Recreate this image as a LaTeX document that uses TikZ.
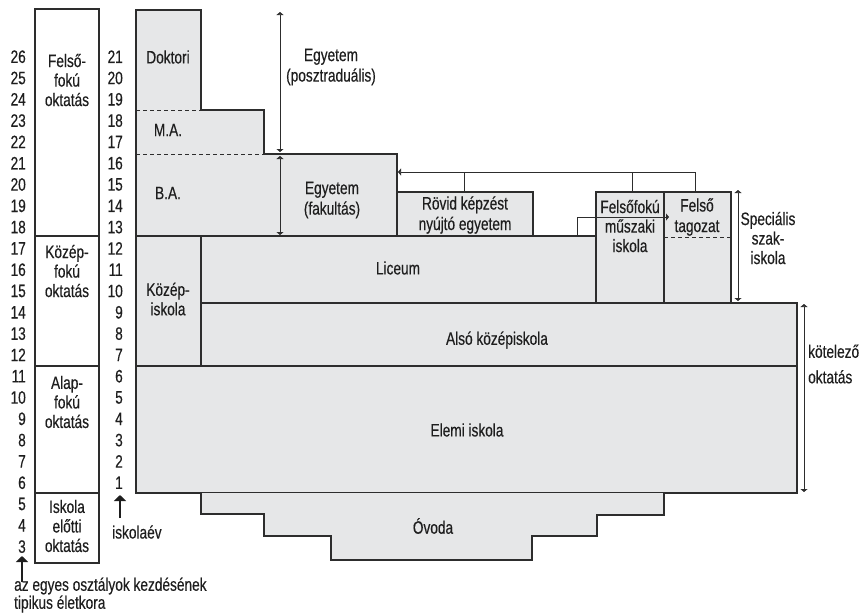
\documentclass[tikz,border=0pt]{standalone}
\usepackage{fontspec}
\setmainfont[FakeStretch=0.76,FakeBold=0.35]{Liberation Sans}
\usetikzlibrary{arrows.meta}
\definecolor{linec}{RGB}{45,45,45}
\definecolor{textc}{RGB}{30,30,30}
\definecolor{fillc}{RGB}{230,231,232}
\begin{document}
\begin{tikzpicture}[x=1pt,y=-1pt,
  every node/.style={font=\fontsize{18}{19.5}\selectfont, inner sep=0pt, align=center, text=textc},
  box/.style={draw=linec, fill=fillc, line width=1.1pt},
  wbox/.style={draw=linec, fill=white, line width=1.1pt},
  dash line/.style={draw=linec, line width=1pt, dash pattern=on 4pt off 3pt},
  conn/.style={draw=linec, line width=1pt},
  dbl/.style={conn, {Triangle[length=3pt,width=7pt]}-{Triangle[length=3pt,width=7pt]}},
  sarrow/.style={conn, -{Triangle[length=3pt,width=7pt]}},
  barrow/.style={draw=textc, line width=2pt, -{Triangle[length=6pt,width=12pt]}}]
\useasboundingbox (0,0) rectangle (861,614);
% left column
\draw[wbox] (35,9) rectangle (99,563);
\draw[conn, line width=1.1pt] (35,236) -- (99,236) (35,366) -- (99,366) (35,493) -- (99,493);
% university
\draw[box] (136,236) -- (136,10) -- (201,10) -- (201,110) -- (264,110) -- (264,154) -- (397,154) -- (397,236) -- cycle;
\draw[dash line] (136,110) -- (201,110);
\draw[dash line] (136,154) -- (264,154);
\draw[box] (397,192) rectangle (533,236);
\draw[box] (596,192) rectangle (664,303);
\draw[box] (664,192) rectangle (731,303);
\draw[dash line] (664,237) -- (731,237);
% secondary
\draw[box] (136,236) rectangle (201,366);
\draw[box] (201,236) rectangle (596,303);
\draw[box] (201,303) rectangle (797,366);
\draw[box] (136,366) rectangle (797,493);
% kindergarten
\draw[box] (201,493) -- (201,514) -- (264,514) -- (264,536) -- (331,536) -- (331,560) -- (532,560) -- (532,536) -- (597,536) -- (597,515) -- (664,515) -- (664,493);
% coordinates for connectors
\coordinate (rov) at (464,192);
\coordinate (fm) at (632,192);
\coordinate (ft) at (695,192);
\coordinate (egyr) at (398,172);
\coordinate (lic) at (577,236);
\coordinate (ftl) at (669,217);
\coordinate (p1) at (280,12);
\coordinate (p2) at (280,152);
\coordinate (f1) at (280,156);
\coordinate (f2) at (280,235);
\coordinate (s1) at (738,190);
\coordinate (s2) at (738,301);
\coordinate (k1) at (804,304);
\coordinate (k2) at (804,492);
\coordinate (a1) at (22,582);
\coordinate (a2) at (22,556);
\coordinate (i1) at (120,518);
\coordinate (i2) at (120,495);
% connectors
\draw[sarrow] (ft) |- (egyr);
\draw[conn] (fm) -- (fm |- egyr);
\draw[conn] (rov) -- (rov |- egyr);
\draw[sarrow] (lic) |- (ftl);
\draw[dbl] (p1) -- (p2);
\draw[dbl] (f1) -- (f2);
\draw[dbl] (s1) -- (s2);
\draw[dbl] (k1) -- (k2);
\draw[barrow] (a1) -- (a2);
\draw[barrow] (i1) -- (i2);
% numbers
\foreach \a in {3,...,26} {
  \pgfmathsetmacro{\yy}{56.7+(26-\a)*21.3}
  \node[anchor=east] (age\a) at (26,\yy) {\a};
}
\foreach \g in {1,...,21} {
  \pgfmathsetmacro{\yy}{56.7+(21-\g)*21.3}
  \node[anchor=east] (gr\g) at (123,\yy) {\g};
}
% left column labels
\node (felso) at (67,80) {Felső-\\fokú\\oktatás};
\node (kozep) at (67,271) {Közép-\\fokú\\oktatás};
\node (alap) at (67,402) {Alap-\\fokú\\oktatás};
\node (iskel) at (67,526) {Iskola\\előtti\\oktatás};
% main labels
\node (dok) at (168,57) {Doktori};
\node (ma) at (168,130) {M.A.};
\node (ba) at (168,193) {B.A.};
\node (poszt) at (331,67) {Egyetem\\[1pt](posztraduális)};
\node (fak) at (332,200) {Egyetem\\[1pt](fakultás)};
\node (rovid) at (465,215) {Rövid képzést\\[1pt]nyújtó egyetem};
\node (musz) at (630,226) {Felsőfokú\\műszaki\\iskola};
\node (ftag) at (697,217) {Felső\\[1pt]tagozat};
\node (spec) at (768,238) {Speciális\\szak-\\iskola};
\node (kisk) at (168,299) {Közép-\\iskola};
\node (liceum) at (398,268) {Liceum};
\node (also) at (497,340) {Alsó középiskola};
\node (elemi) at (467,430) {Elemi iskola};
\node (ovoda) at (433,526) {Óvoda};
\node[anchor=west, align=left] (kot) at (808,364) {kötelező\\[6pt]oktatás};
\node[anchor=west] (iskev) at (112,532) {iskolaév};
\node[anchor=west, align=left, font=\fontsize{18}{16.7}\selectfont] (eletk) at (14,595) {az egyes osztályok kezdésének\\tipikus életkora};
\end{tikzpicture}
\end{document}
